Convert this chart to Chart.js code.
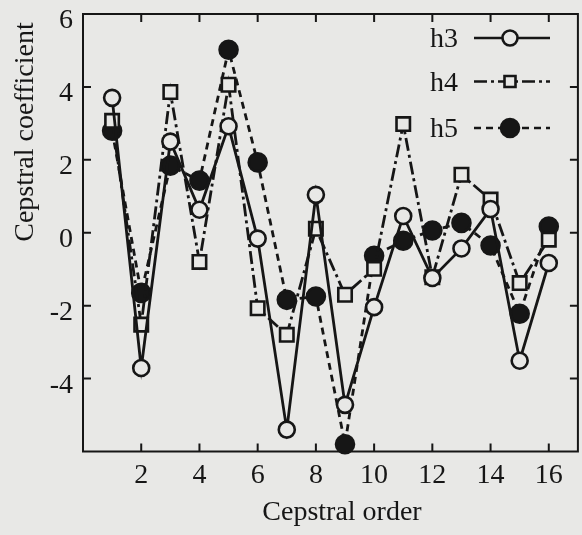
<!DOCTYPE html>
<html>
<head>
<meta charset="UTF-8">
<title>Cepstral coefficients</title>
<script src="https://cdn.jsdelivr.net/npm/chart.js@4.4.0/dist/chart.umd.min.js"></script>
<style>
	body { margin:0; padding:0; overflow:hidden; background:#e8e8e6; }
	canvas { display:block; }
</style>
</head>
<body>
<canvas id="chart" width="590" height="535"></canvas>
<script>
// values
const orders = [1, 2, 3, 4, 5, 6, 7, 8, 9, 10, 11, 12, 13, 14, 15, 16];
const h3 = [3.70, -3.71, 2.50, 0.63, 2.92, -0.16, -5.40, 1.04, -4.72, -2.04, 0.46, -1.24, -0.43, 0.65, -3.51, -0.83];
const h4 = [3.07, -2.52, 3.86, -0.80, 4.06, -2.07, -2.80, 0.11, -1.70, -0.99, 2.98, -1.22, 1.59, 0.91, -1.38, -0.19];
const h5 = [2.80, -1.65, 1.84, 1.43, 5.02, 1.93, -1.84, -1.75, -5.80, -0.63, -0.22, 0.06, 0.27, -0.35, -2.22, 0.17];
const xTicks = [2, 4, 6, 8, 10, 12, 14, 16];
const yTicks = [-4, -2, 0, 2, 4, 6];
const seriesNames = ['h3', 'h4', 'h5'];

const ink = '#161616';
const paper = '#e8e8e6';
const serif = '"Liberation Serif", "DejaVu Serif", serif';

Chart.defaults.font.family = serif;
Chart.defaults.color = ink;

const styles = [
	{ dash: [], point: 'circle', radius: 8, fill: paper },
	{ dash: [13, 4, 3, 4], point: 'rect', radius: 9.5, fill: paper },
	{ dash: [7, 5], point: 'circle', radius: 9, fill: ink }
];

const datasets = [h3, h4, h5].map((vals, i) => ({
	label: seriesNames[i],
	data: orders.map((x, j) => ({ x: x, y: vals[j] })),
	borderColor: ink,
	borderWidth: 2.8,
	borderDash: styles[i].dash,
	pointStyle: styles[i].point,
	pointRadius: styles[i].radius,
	pointBackgroundColor: styles[i].fill,
	pointBorderColor: ink,
	pointBorderWidth: 2.6,
	tension: 0,
	clip: false
}));

// frame with inward ticks on all four sides
const frame = {
	id: 'frame',
	beforeDatasetsDraw(chart) {
		const { ctx, chartArea: a, scales: { x, y } } = chart;
		ctx.save();
		ctx.strokeStyle = ink;
		ctx.lineWidth = 2;
		ctx.strokeRect(a.left, a.top, a.right - a.left, a.bottom - a.top);
		ctx.beginPath();
		xTicks.forEach(v => {
			const p = x.getPixelForValue(v);
			ctx.moveTo(p, a.bottom); ctx.lineTo(p, a.bottom - 8);
			ctx.moveTo(p, a.top); ctx.lineTo(p, a.top + 8);
		});
		yTicks.forEach(v => {
			const p = y.getPixelForValue(v);
			ctx.moveTo(a.left, p); ctx.lineTo(a.left + 8, p);
			ctx.moveTo(a.right, p); ctx.lineTo(a.right - 8, p);
		});
		ctx.stroke();
		ctx.restore();
	}
};

// axis titles and the legend in the top right corner
const annotate = {
	id: 'annotate',
	afterDraw(chart) {
		const { ctx } = chart;
		ctx.save();
		ctx.fillStyle = ink;
		ctx.font = '28px ' + serif;
		ctx.textAlign = 'center';
		ctx.textBaseline = 'alphabetic';
		ctx.fillText('Cepstral order', 342, 520);
		ctx.translate(33, 132);
		ctx.rotate(-Math.PI / 2);
		ctx.fillText('Cepstral coefficient', 0, 0);
		ctx.restore();

		const rows = [38, 81.5, 128];
		ctx.save();
		ctx.font = '28px ' + serif;
		ctx.textAlign = 'left';
		ctx.textBaseline = 'alphabetic';
		seriesNames.forEach((name, i) => {
			const yy = rows[i];
			ctx.fillStyle = ink;
			ctx.fillText(name, 430, yy + 9);
			ctx.strokeStyle = ink;
			ctx.lineWidth = 2.6;
			ctx.setLineDash(styles[i].dash);
			ctx.beginPath();
			ctx.moveTo(474, yy); ctx.lineTo(550, yy);
			ctx.stroke();
			ctx.setLineDash([]);
			ctx.fillStyle = styles[i].fill;
			ctx.beginPath();
			if (styles[i].point === 'rect') {
				ctx.rect(510 - 5.5, yy - 5.5, 11, 11);
			} else {
				ctx.arc(510, yy, i === 0 ? 7.5 : 9, 0, Math.PI * 2);
			}
			ctx.fill();
			ctx.stroke();
		});
		ctx.restore();
	}
};

new Chart(document.getElementById('chart'), {
	type: 'line',
	data: { datasets: datasets },
	plugins: [frame, annotate],
	options: {
		responsive: false,
		animation: false,
		layout: { padding: { top: 14, right: 5.5, left: 0, bottom: 0 } },
		plugins: { legend: { display: false }, tooltip: { enabled: false } },
		scales: {
			x: {
				type: 'linear',
				min: 0,
				max: 17,
				grid: { display: false, drawTicks: false },
				border: { display: false },
				afterBuildTicks: s => { s.ticks = xTicks.map(v => ({ value: v })); },
				afterFit: s => { s.height = 83.5; s.paddingLeft = 0; s.paddingRight = 0; },
				ticks: { font: { size: 28 }, padding: 7, maxRotation: 0, color: ink }
			},
			y: {
				min: -6,
				max: 6,
				grid: { display: false, drawTicks: false },
				border: { display: false },
				afterBuildTicks: s => { s.ticks = yTicks.map(v => ({ value: v })); },
				afterFit: s => { s.width = 83; s.paddingTop = 0; s.paddingBottom = 0; },
				ticks: { font: { size: 28 }, padding: 10, labelOffset: 7, color: ink }
			}
		}
	}
});
</script>
</body>
</html>
